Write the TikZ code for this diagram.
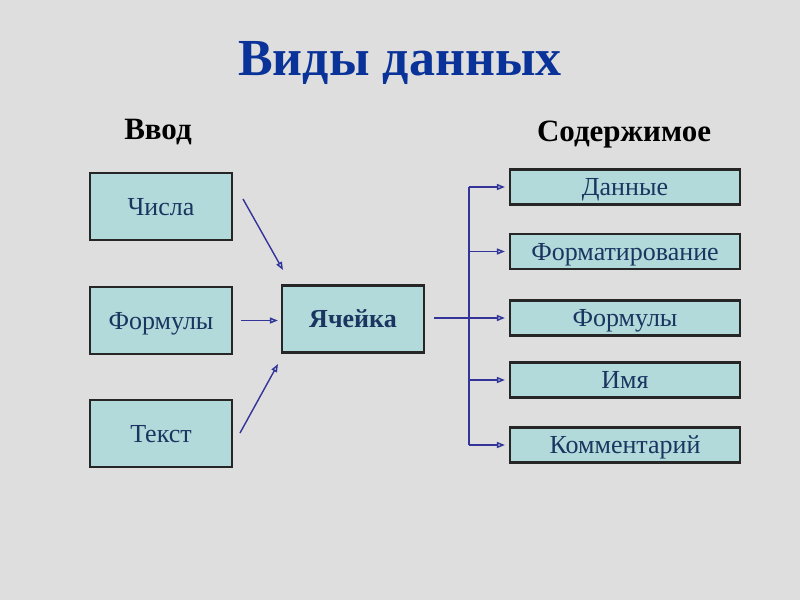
\documentclass[tikz,border=0pt]{standalone}
\usepackage{fontspec}
\setmainfont{Liberation Serif}
\usetikzlibrary{arrows.meta}
\definecolor{bg}{HTML}{DEDEDE}
\definecolor{boxfill}{HTML}{B3DADA}
\definecolor{boxtext}{HTML}{1A3560}
\definecolor{titleblue}{HTML}{0A3399}
\definecolor{arrowc}{HTML}{333399}
\tikzset{
  box/.style={draw=black!85, line width=2.2pt, fill=boxfill, text=boxtext, inner sep=0pt, font=\fontsize{26}{30}\selectfont, text height=19pt, text depth=2pt},
  lbox/.style={box, minimum width=142pt, minimum height=67pt},
  rbox/.style={box, minimum width=230pt, minimum height=35pt},
  arr/.style={draw=arrowc, line width=1.4pt, -{Triangle[length=8pt,width=6pt,fill=boxfill]}},
  conn/.style={draw=arrowc, line width=1.4pt},
  head/.style={font=\bfseries\fontsize{31}{36}\selectfont, text=black}
}
\begin{document}
\begin{tikzpicture}[x=1pt,y=-1pt]
\fill[bg] (0,0) rectangle (800,600);
\useasboundingbox (0,0) rectangle (800,600);
\node[font=\bfseries\fontsize{52}{60}\selectfont, text=titleblue] (title) at (400,63) {Виды данных};
\node[head] (vvod) at (158,132) {Ввод};
\node[head] (sod) at (624,135) {Содержимое};

\node[lbox] (chisla) at (161,206.5) {Числа};
\node[lbox] (formL) at (161,320.5) {Формулы};
\node[lbox] (tekst) at (161,433.5) {Текст};
\node[lbox, font=\bfseries\fontsize{26}{30}\selectfont] (cell) at (353,319) {Ячейка};

\node[rbox] (r1) at (625,187) {Данные};
\node[rbox] (r2) at (625,251.5) {Форматирование};
\node[rbox] (r3) at (625,318) {Формулы};
\node[rbox] (r4) at (625,380) {Имя};
\node[rbox] (r5) at (625,445) {Комментарий};

\coordinate (a1s) at (243,199);
\coordinate (a1e) at (283,270);
\coordinate (a3s) at (240,433);
\coordinate (a3e) at (278,364);
\draw[arr] (a1s) -- (a1e);
\draw[arr] ([xshift=8pt]formL.east) -- ([xshift=-3pt]cell.west |- formL.east);
\draw[arr] (a3s) -- (a3e);

\coordinate (bus) at (469,318);
\draw[conn] (r1.west -| bus) -- (r5.west -| bus);
\draw[arr] ([xshift=9pt]cell.east |- r3.west) -- ([xshift=-4pt]r3.west);
\foreach \r in {r1,r2,r4,r5}{
  \draw[arr] (\r.west -| bus) -- ([xshift=-4pt]\r.west);
}
\end{tikzpicture}
\end{document}
